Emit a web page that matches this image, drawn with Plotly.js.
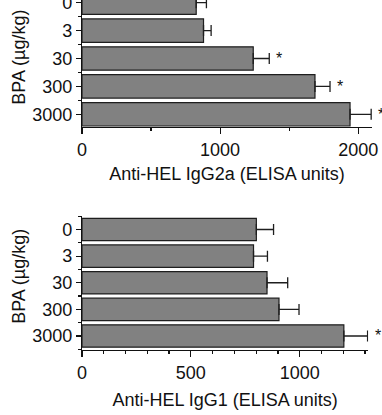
<!DOCTYPE html>
<html><head><meta charset="utf-8">
<script src="https://cdn.plot.ly/plotly-3.0.1.min.js"></script>
<style>
html,body{margin:0;padding:0;overflow:hidden;background:#fff;width:382px;height:415px}
#chart{position:absolute;left:0;top:-12px;width:382px;height:428px}
</style>
</head><body><div id="chart"></div>
<script>
// ---- data ----
const doses = ['0', '3', '30', '300', '3000'];
const igg2a = [827, 880, 1240, 1687, 1941];
const igg2aErr = [74, 55, 116, 109, 153];
const igg2aSig = [false, false, true, true, true];
const igg1 = [801, 788, 850, 905, 1203];
const igg1Err = [79, 64, 95, 92, 109];
const igg1Sig = [false, false, false, false, true];
const xTitleTop = 'Anti-HEL IgG2a (ELISA units)';
const xTitleBottom = 'Anti-HEL IgG1 (ELISA units)';
const yTitle = 'BPA (µg/kg)';

// ---- styling ----
const INK = '#111';
const FILL = '#818181';
const EDGE = '#1e1e1e';
const pos = doses.map((d, i) => i);

function barTrace(vals, errs, xa, ya) {
  return {
    type: 'bar', orientation: 'h',
    x: vals, y: pos, xaxis: xa, yaxis: ya,
    width: 0.84,
    marker: {color: FILL, line: {color: EDGE, width: 1.2}},
    error_x: {type: 'data', symmetric: false, array: errs,
              arrayminus: errs.map(() => 0),
              color: EDGE, thickness: 1.3, width: 5.5},
    hoverinfo: 'skip'
  };
}

function stars(vals, errs, sig, xa, ya) {
  const out = [];
  sig.forEach((s, i) => {
    if (s) out.push({x: vals[i] + errs[i], y: i, xref: xa, yref: ya,
      text: '*', showarrow: false, xanchor: 'center', yanchor: 'middle',
      xshift: 10, font: {size: 16, color: INK}});
  });
  return out;
}

function yTitleAnno(yref, yshift) {
  return {text: yTitle, xref: 'paper', x: 0, xshift: -63, yref: yref, y: 0.5,
    yshift: yshift, textangle: -90, showarrow: false,
    xanchor: 'center', yanchor: 'middle', font: {size: 18, color: INK}};
}

const axBase = {
  showline: true, linecolor: INK, linewidth: 1.2,
  ticks: 'outside', tickcolor: INK, tickwidth: 1.2,
  showgrid: false, zeroline: false, fixedrange: true
};

const layout = {
  width: 382, height: 428,
  margin: {l: 82, r: 10, t: 0, b: 66},
  paper_bgcolor: '#fff', plot_bgcolor: '#fff',
  font: {family: 'Liberation Sans, Arial, sans-serif', size: 18, color: INK},
  showlegend: false,
  xaxis: Object.assign({}, axBase, {
    domain: [0, 1], anchor: 'y', range: [0, 2100],
    tick0: 0, dtick: 1000, ticklen: 6,
    minor: {dtick: 500, ticks: 'outside', ticklen: 3, tickcolor: INK, tickwidth: 1.2},
    title: {text: xTitleTop, standoff: 8, font: {size: 18}}
  }),
  yaxis: Object.assign({}, axBase, {
    domain: [0.6152, 1], anchor: 'x', range: [4.466, -0.527],
    tickmode: 'array', tickvals: pos, ticktext: doses, ticklen: 5,
    minor: {tick0: 0.5, dtick: 1, ticks: 'outside', ticklen: 3, tickcolor: INK, tickwidth: 1.2}
  }),
  xaxis2: Object.assign({}, axBase, {
    domain: [0, 0.987], anchor: 'y2', range: [0, 1315],
    tick0: 0, dtick: 500, ticklen: 6,
    minor: {dtick: 100, ticks: 'outside', ticklen: 3, tickcolor: INK, tickwidth: 1.2},
    title: {text: xTitleBottom, standoff: 11, font: {size: 18}}
  }),
  yaxis2: Object.assign({}, axBase, {
    domain: [0, 0.371], anchor: 'x2', range: [4.526, -0.519],
    tickmode: 'array', tickvals: pos, ticktext: doses, ticklen: 5,
    minor: {tick0: 0.5, dtick: 1, ticks: 'outside', ticklen: 3, tickcolor: INK, tickwidth: 1.2}
  }),
  annotations: stars(igg2a, igg2aErr, igg2aSig, 'x', 'y')
    .concat(stars(igg1, igg1Err, igg1Sig, 'x2', 'y2'))
    .concat([yTitleAnno('y domain', 0), yTitleAnno('y2 domain', 6)])
};

Plotly.newPlot('chart', [
  barTrace(igg2a, igg2aErr, 'x', 'y'),
  barTrace(igg1, igg1Err, 'x2', 'y2')
], layout, {displayModeBar: false, staticPlot: true});
</script>
</body></html>
